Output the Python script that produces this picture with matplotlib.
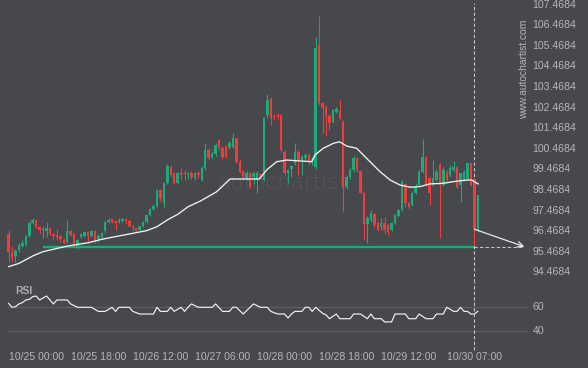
import matplotlib
matplotlib.use("Agg")
import matplotlib.pyplot as plt

plt.rcParams['font.family'] = ['Liberation Sans', 'DejaVu Sans']

# hourly candles, hour 0 = 10/25 00:00
hours = list(range(-8, 129))
opens = [96.33, 95.42, 95.24, 95.55, 95.74, 95.82, 96.25, 96.87, 97.00, 96.66,
         96.52, 96.48, 96.60, 96.34, 96.28, 96.22, 96.05, 95.95, 96.45, 96.33,
         95.75, 96.20, 96.25, 96.42, 96.25, 96.45, 96.10, 96.20, 96.45, 96.92,
         97.04, 96.95, 96.92, 96.98, 97.05, 96.98, 96.72, 96.60, 96.50, 96.70,
         96.90, 97.25, 97.54, 97.69, 98.46, 97.85, 98.79, 99.60, 99.31, 98.82,
         99.31, 99.31, 99.22, 99.27, 99.05, 99.30, 98.95, 99.52, 100.41, 100.05,
         100.21, 100.89, 100.53, 100.57, 100.57, 100.57, 100.98, 99.84, 99.40, 99.03,
         99.27, 99.10, 98.95, 99.22, 98.95, 102.11, 102.87, 102.06, 102.10, 102.11,
         100.33, 99.27, 99.47, 99.76, 100.33, 99.92, 100.00, 100.17, 99.84, 99.60,
         105.51, 102.68, 102.48, 102.06, 101.78, 102.27, 102.32, 101.78, 98.63, 99.11,
         99.44, 100.00, 99.40, 98.33, 96.81, 97.01, 97.30, 96.85, 96.68, 96.85,
         96.76, 96.52, 96.85, 97.20, 97.49, 98.76, 97.82, 97.74, 98.30, 98.71,
         99.36, 100.08, 99.03, 98.71, 98.95, 99.68, 98.71, 99.27, 99.19, 99.44,
         99.60, 98.71, 98.95, 99.00, 99.76, 99.00, 96.52]
highs = [96.52, 95.75, 95.60, 95.90, 96.03, 96.30, 96.92, 97.12, 97.05, 96.70,
         96.71, 96.90, 96.65, 96.40, 96.55, 96.30, 96.12, 97.00, 96.52, 96.38,
         96.10, 96.38, 96.45, 96.46, 96.50, 96.50, 96.35, 96.42, 96.95, 97.10,
         97.10, 97.00, 97.10, 97.12, 97.10, 97.02, 96.76, 96.64, 96.74, 96.96,
         97.30, 97.58, 97.75, 98.50, 98.50, 98.85, 99.75, 99.65, 99.35, 99.32,
         99.55, 99.45, 99.35, 99.40, 99.35, 99.40, 99.65, 100.76, 100.50, 100.35,
         100.75, 100.95, 100.60, 100.65, 100.85, 101.22, 101.00, 99.95, 99.45, 99.40,
         99.35, 99.35, 99.40, 99.30, 102.00, 103.11, 103.00, 102.15, 102.20, 102.15,
         100.40, 99.50, 99.70, 100.73, 100.40, 100.15, 100.25, 100.25, 100.05, 105.88,
         106.92, 102.75, 102.60, 102.15, 102.40, 102.50, 102.84, 101.85, 99.20, 99.55,
         100.10, 100.08, 99.45, 98.40, 97.20, 97.50, 97.35, 96.90, 97.09, 97.17,
         96.80, 96.90, 97.30, 97.55, 98.95, 98.80, 97.88, 98.35, 98.79, 99.44,
         100.93, 100.10, 99.10, 99.92, 99.50, 99.80, 99.60, 99.44, 99.70, 99.85,
         99.65, 99.30, 99.45, 99.80, 99.80, 99.05, 98.22]
lows = [94.98, 95.03, 94.98, 95.45, 95.68, 95.75, 96.17, 96.82, 96.60, 96.37,
        96.15, 96.17, 96.30, 96.07, 96.04, 95.95, 95.85, 95.90, 96.25, 95.70,
        95.60, 96.12, 96.20, 96.00, 96.20, 95.87, 95.95, 96.12, 96.40, 96.88,
        96.85, 96.50, 96.85, 96.92, 96.80, 96.68, 96.45, 96.42, 96.45, 96.66,
        96.85, 97.20, 97.50, 97.65, 97.95, 97.65, 98.75, 99.10, 98.75, 98.78,
        98.95, 98.95, 99.00, 99.00, 98.95, 99.05, 98.90, 99.45, 99.90, 99.95,
        100.10, 100.40, 99.95, 100.00, 100.45, 100.50, 99.80, 99.30, 98.95, 98.95,
        98.55, 98.75, 98.30, 99.05, 98.90, 101.95, 101.60, 101.85, 101.90, 100.30,
        99.20, 98.79, 99.11, 99.70, 99.19, 99.19, 99.90, 99.75, 99.70, 99.50,
        102.60, 101.22, 101.09, 101.38, 101.70, 102.20, 101.85, 97.41, 98.50, 99.00,
        99.35, 99.35, 98.25, 96.03, 95.87, 96.90, 96.65, 96.45, 96.52, 96.36,
        96.28, 96.45, 96.80, 97.15, 97.45, 97.65, 97.53, 97.70, 98.25, 98.65,
        99.30, 98.65, 97.74, 98.65, 98.90, 96.12, 98.65, 98.80, 99.10, 99.35,
        98.55, 97.90, 98.90, 98.95, 98.65, 95.79, 96.44]
closes = [95.47, 95.22, 95.52, 95.78, 95.88, 96.25, 96.86, 97.00, 96.66, 96.52,
          96.58, 96.60, 96.34, 96.22, 96.16, 96.10, 95.90, 96.48, 96.30, 95.74,
          96.05, 96.34, 96.42, 96.22, 96.45, 96.05, 96.25, 96.38, 96.90, 97.03,
          96.93, 96.88, 97.02, 97.06, 96.95, 96.72, 96.60, 96.48, 96.70, 96.92,
          97.25, 97.54, 97.70, 98.46, 98.06, 98.79, 99.63, 99.19, 98.79, 99.27,
          99.19, 99.22, 99.28, 99.11, 99.27, 99.20, 99.52, 100.41, 100.00, 100.21,
          100.65, 100.49, 100.05, 100.12, 100.73, 100.98, 99.84, 99.36, 99.08, 99.30,
          98.63, 99.27, 99.30, 99.12, 101.95, 102.84, 101.95, 101.99, 102.04, 100.41,
          99.27, 99.44, 99.63, 100.33, 99.92, 100.08, 100.17, 99.84, 99.95, 105.35,
          102.68, 102.43, 102.11, 101.70, 102.35, 102.38, 101.95, 98.63, 99.11, 99.44,
          100.00, 99.44, 98.33, 96.81, 97.09, 97.33, 96.76, 96.52, 96.84, 96.52,
          96.44, 96.85, 97.25, 97.49, 98.87, 97.82, 97.65, 98.30, 98.63, 99.36,
          100.08, 98.71, 98.30, 99.03, 99.36, 98.71, 99.44, 98.95, 99.52, 99.60,
          98.63, 99.27, 99.36, 99.76, 98.71, 96.57, 98.22]

# moving average
ma_hours = [-8, -5, -1, 2, 9, 15, 19, 23, 28, 32, 35, 38, 41, 44, 47.5, 52.3, 56.2,
            64.7, 66.8, 69.7, 72.6, 79.9, 80.8, 83.2, 86.1, 87.9, 90, 92.9, 95.8,
            99.7, 102.6, 105.4, 108.4, 111.2, 114.1, 118, 120.9, 124.8, 126.2, 128.1]
ma_vals = [94.74, 94.90, 95.26, 95.47, 95.74, 95.90, 96.07, 96.20, 96.36, 96.49,
           96.68, 97.01, 97.28, 97.65, 97.92, 98.38, 99.00, 99.00, 99.44, 99.84,
           99.92, 99.84, 100.17, 100.49, 100.73, 100.81, 100.60, 100.49, 100.00,
           99.35, 98.95, 98.71, 98.60, 98.63, 98.76, 98.79, 98.87, 98.95, 98.95, 98.76]

rsi_hours = [-8, -7, -6, -5, -4, -3, -2, -1, 0, 1, 3, 4, 5, 6, 9, 10, 12, 16, 18, 20,
             22, 23, 24, 27, 28, 30, 34, 35, 36, 38, 39, 40, 42, 43, 44, 45, 47, 51,
             52, 54, 56, 57, 58, 60, 62, 63, 65, 67, 68, 70, 72, 73, 74, 75, 77, 78,
             79, 80, 81, 83, 84, 85, 87, 88, 91, 92, 94, 96, 97, 98, 100, 101, 103,
             104, 107, 108, 110, 111, 113, 115, 116, 118, 119, 121, 122, 123, 124,
             125, 126, 127, 128]
rsi_vals = [62.8, 59.5, 60.0, 62.3, 63.4, 65.6, 66.1, 68.4, 68.9, 65.6, 68.9, 65.6,
            62.3, 65.6, 65.6, 62.3, 59.5, 59.5, 56.1, 56.1, 59.5, 56.1, 59.5, 59.5,
            56.1, 53.9, 53.9, 59.5, 56.1, 56.1, 59.5, 56.1, 59.5, 56.1, 59.5, 62.3,
            59.5, 59.5, 62.3, 56.1, 56.1, 59.5, 59.5, 53.9, 59.5, 62.3, 59.5, 59.5,
            56.1, 53.9, 53.9, 50.6, 53.9, 56.1, 56.1, 59.5, 59.5, 56.1, 59.5, 54.5,
            53.1, 50.0, 53.9, 50.0, 50.0, 53.9, 53.9, 50.0, 53.9, 50.0, 50.0, 47.3,
            47.3, 53.9, 53.9, 50.0, 50.0, 53.9, 50.0, 50.0, 53.9, 53.9, 59.5, 56.1,
            56.1, 59.5, 56.1, 56.1, 53.9, 53.9, 56.1]

support_level = 95.71
support_start, support_end = 2, 127
signal_hour = 127
signal_price = 96.56
target_hour = 141.5

price_ticks = [107.4684, 106.4684, 105.4684, 104.4684, 103.4684, 102.4684, 101.4684,
               100.4684, 99.4684, 98.4684, 97.4684, 96.4684, 95.4684, 94.4684]
date_hours = [0, 18, 36, 54, 72, 90, 108, 127]
date_labels = ['10/25 00:00', '10/25 18:00', '10/26 12:00', '10/27 06:00',
               '10/28 00:00', '10/28 18:00', '10/29 12:00', '10/30 07:00']
rsi_levels = [60, 40]

BG = '#46484c'
GREEN = '#1faa7b'
RED = '#f23b3b'
TXT = '#b4b6b9'

fig = plt.figure(figsize=(5.88, 3.68), dpi=100, facecolor=BG)
ax = fig.add_axes([0, 86 / 368, 1, 282 / 368])
rax = fig.add_axes([0, 0, 1, 86 / 368])
for a in (ax, rax):
    a.set_facecolor(BG)
    a.set_xlim(-10.49, 159.94)
    a.set_axis_off()
ax.set_ylim(93.995, 107.697)
rax.set_ylim(8.92, 80.58)

# watermark
ax.text(0.48, 0.35, 'autochartist', transform=ax.transAxes, fontsize=15.5,
        color='#55575b', ha='center', va='center', family=['DejaVu Sans'],
        fontweight='light', zorder=0)
ax.text(0.891, 0.755, 'www.autochartist.com', transform=ax.transAxes, rotation=90,
        fontsize=7.4, color=TXT, ha='center', va='center')

# support line + projection
ax.plot([support_start, support_end], [support_level, support_level],
        color=GREEN, lw=1.7, solid_capstyle='butt', zorder=2)
ax.plot([signal_hour, target_hour], [support_level, support_level],
        color='#c4c6c8', lw=0.8, ls=(0, (3, 2)), zorder=2)
ax.annotate('', xy=(target_hour, support_level), xytext=(signal_hour, signal_price),
            arrowprops=dict(arrowstyle='->', color='#e8e8e8', lw=0.9,
                            shrinkA=0, shrinkB=0), zorder=5)

# candles
cols = [GREEN if c >= o else RED for o, c in zip(opens, closes)]
ax.vlines(hours, lows, highs, colors=cols, lw=0.8, zorder=3)
bodies = [max(abs(c - o), 0.04) for o, c in zip(opens, closes)]
ax.bar(hours, bodies, bottom=[min(o, c) for o, c in zip(opens, closes)],
       width=0.72, color=cols, linewidth=0, zorder=3)

ax.plot(ma_hours, ma_vals, color='#f2f2f2', lw=0.95, zorder=4)

ax.axvline(signal_hour, ymin=0, ymax=1 - 3 / 282, color='#c4c6c8', lw=0.8,
           ls=(0, (3, 2)), zorder=1)

for p in price_ticks:
    ax.text(143.9, p, f'{p:.4f}', color=TXT, fontsize=7.6, ha='left', va='center')

# RSI panel
rax.hlines(rsi_levels, -8.46, 142.6, color='#5c5e62', lw=0.9)
for lv in rsi_levels:
    rax.text(143.9, lv, str(lv), color=TXT, fontsize=7.6, ha='left', va='center')
rax.plot(rsi_hours, rsi_vals, color='#f2f2f2', lw=0.85)
rax.text(0.0255, 0.895, 'RSI', transform=rax.transAxes, color='#a9abae',
         fontsize=7.5, fontweight='bold', ha='left', va='center')
rax.axvline(signal_hour, ymin=18 / 86, ymax=1, color='#c4c6c8', lw=0.8,
            ls=(0, (3, 2)))
for h, lab in zip(date_hours, date_labels):
    rax.text(h, 18.33, lab, color=TXT, fontsize=7.6, ha='center', va='center')

fig.savefig('out.png', dpi=100, facecolor=BG)
